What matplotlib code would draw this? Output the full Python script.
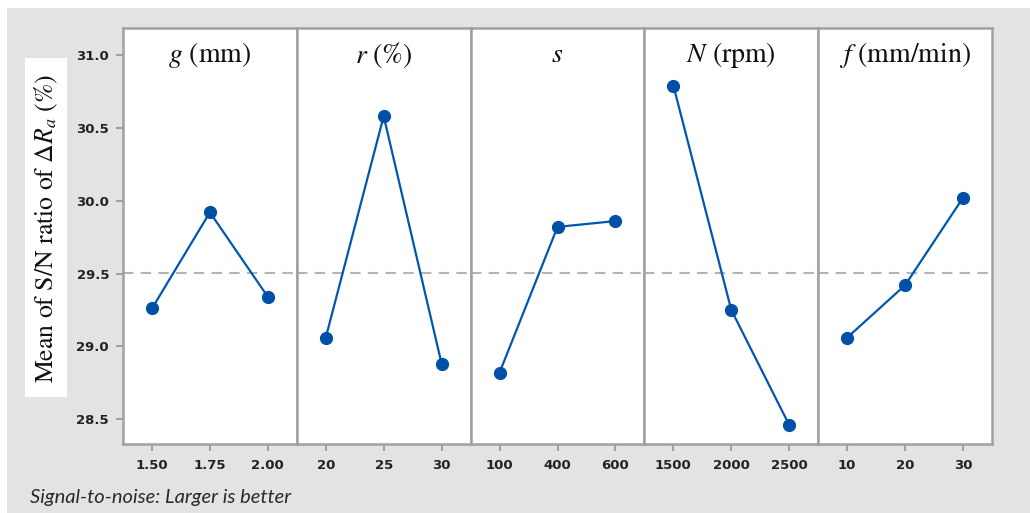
import numpy as np
import matplotlib
matplotlib.use("Agg")
import matplotlib.pyplot as plt
from matplotlib.patches import Rectangle

# factor titles (mathtext for italic symbols)
TITLES = ["$g$ (mm)", "$r$ (%)", "$s$", "$N$ (rpm)", "$f$ (mm/min)"]

# levels of each factor
g_levels = ["1.50", "1.75", "2.00"]
r_levels = ["20", "25", "30"]
s_levels = ["100", "400", "600"]
n_levels = ["1500", "2000", "2500"]
f_levels = ["10", "20", "30"]

# mean S/N ratios
g_sn = [29.26, 29.92, 29.34]
r_sn = [29.06, 30.58, 28.88]
s_sn = [28.82, 29.82, 29.86]
n_sn = [30.79, 29.25, 28.46]
f_sn = [29.06, 29.42, 30.02]

LEVELS = [g_levels, r_levels, s_levels, n_levels, f_levels]
VALUES = [g_sn, r_sn, s_sn, n_sn, f_sn]

grand_mean = np.mean(np.concatenate(VALUES))

plt.rcParams["mathtext.fontset"] = "stix"

W, H = 1030, 513
fig = plt.figure(figsize=(W / 100, H / 100), dpi=100, facecolor="white")

# minitab-style grey background
fig.patches.append(Rectangle((7 / W, 0), 1 - 7 / W, 1 - 8 / H, transform=fig.transFigure,
                             facecolor="#e3e3e3", edgecolor="none", zorder=-10))

left, right = 123 / W, 992 / W
top, bottom = 1 - 28 / H, 1 - 444 / H
pw = (right - left) / 5

line_col = "#0057b0"
frame_col = "#a0a0a0"

axes = []
for i in range(5):
    ax = fig.add_axes([left + i * pw, bottom, pw, top - bottom])
    ax.set_zorder(2)
    axes.append(ax)
    x = np.arange(len(LEVELS[i]))
    ax.axhline(grand_mean, color="#b4b4b4", lw=1.5, ls=(0, (5, 3.5)), zorder=1)
    ax.plot(x, VALUES[i], color=line_col, lw=1.6, marker="o", ms=8.5,
            markerfacecolor="#0050a8", markeredgecolor="#0050a8", zorder=3)
    ax.set_xlim(-0.5, 2.5)
    ax.set_ylim(28.33, 31.185)
    ax.set_xticks(x)
    ax.set_xticklabels(LEVELS[i])
    ax.set_facecolor("white")
    for sp in ax.spines.values():
        sp.set_color(frame_col)
        sp.set_linewidth(1.8)
    ax.tick_params(axis="x", direction="out", length=5, width=1.5, color=frame_col,
                   labelsize=9.5, labelcolor="#222222", pad=6)
    for lab in ax.get_xticklabels():
        lab.set_fontweight("bold")
    if i == 0:
        ax.set_yticks([28.5, 29.0, 29.5, 30.0, 30.5, 31.0])
        ax.set_yticklabels(["28.5", "29.0", "29.5", "30.0", "30.5", "31.0"])
        ax.tick_params(axis="y", direction="out", length=5, width=1.5, color=frame_col,
                       labelsize=9.5, labelcolor="#222222", pad=5)
        for lab in ax.get_yticklabels():
            lab.set_fontweight("bold")
    else:
        ax.tick_params(axis="y", left=False, labelleft=False)
    ax.text(0.5, 0.935, TITLES[i], transform=ax.transAxes, ha="center", va="center",
            fontsize=20, family="STIXGeneral", color="#111111")

# y label in its white box
fig.patches.append(Rectangle((25 / W, 1 - 397 / H), 42 / W, 339 / H, transform=fig.transFigure,
                             facecolor="white", edgecolor="none", zorder=-5))
fig.text(46 / W, 1 - 228 / H, r"Mean of S/N ratio of $\Delta R_a$ (%)", rotation=90,
         ha="center", va="center", fontsize=18.5, family="STIXGeneral", color="#111111")

fig.text(30 / W, 1 - 497 / H, "Signal-to-noise: Larger is better", ha="left", va="center",
         fontsize=14.5, family="Lato", style="italic", color="#2a2a2a")

fig.savefig("out.png", dpi=100, facecolor=fig.get_facecolor())
